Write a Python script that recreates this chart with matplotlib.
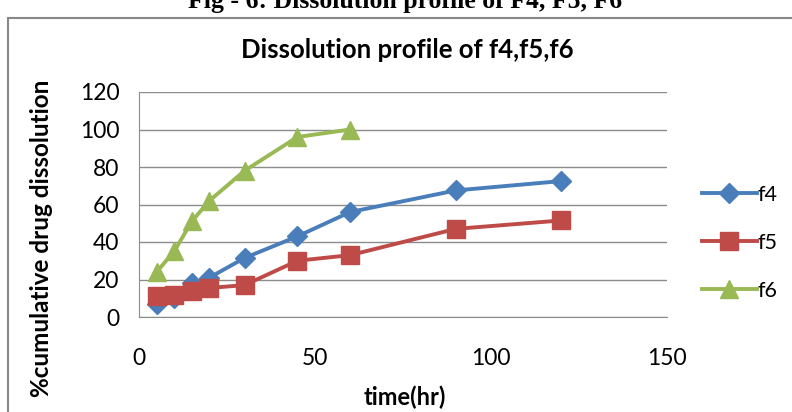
import matplotlib
matplotlib.use("Agg")
import matplotlib.pyplot as plt
from matplotlib.patches import Rectangle
from matplotlib.lines import Line2D

time_f4 = [5, 10, 15, 20, 30, 45, 60, 90, 120]
f4 = [7, 10, 18, 21, 31.5, 43, 56, 67.5, 72.5]
time_f5 = [5, 10, 15, 20, 30, 45, 60, 90, 120]
f5 = [11, 12, 14, 15.5, 17, 30, 33, 47, 51.5]
time_f6 = [5, 10, 15, 20, 30, 45, 60]
f6 = [24, 35, 51, 62, 78, 96, 100]

xticks = [0, 50, 100, 150]
yticks = [0, 20, 40, 60, 80, 100, 120]

FONT = ["Lato", "DejaVu Sans"]

fig = plt.figure(figsize=(7.92, 4.12), dpi=100)
fig.patch.set_facecolor("white")

# outer chart border
fig.patches.append(Rectangle((7.5/792, -0.05), 1.2, (1 - 18/412) + 0.05,
                             transform=fig.transFigure, fill=False,
                             edgecolor="#888888", linewidth=1.5))

# cropped caption at the top
fig.text(405/792, 1 - 8/412, "Fig - 6: Dissolution profile of F4, F5, F6",
         ha="center", va="baseline", fontsize=18.5, fontweight="bold",
         family=["Liberation Serif"])

ax = fig.add_axes([139/792, 1 - 317/412, (667 - 139)/792, (317 - 92)/412])
ax.set_xlim(0, 150)
ax.set_ylim(0, 120)
ax.set_xticks(xticks)
ax.set_yticks(yticks)
ax.grid(axis="y", color="#8c8c8c", linewidth=1)
ax.set_axisbelow(True)
for s in ["top", "right"]:
    ax.spines[s].set_visible(False)
for s in ["left", "bottom"]:
    ax.spines[s].set_color("#8c8c8c")
ax.tick_params(length=0, labelsize=16.5, pad=14)
ax.tick_params(axis="x", pad=22)
for lab in ax.get_xticklabels() + ax.get_yticklabels():
    lab.set_family(FONT)

c4, c5, c6 = "#4A7EBB", "#BE4B48", "#98B954"
ax.plot(time_f4, f4, color=c4, lw=2.8, marker="D", ms=10, clip_on=False, zorder=3)
ax.plot(time_f5, f5, color=c5, lw=2.8, marker="s", ms=13, clip_on=False, zorder=4)
ax.plot(time_f6, f6, color=c6, lw=2.8, marker="^", ms=13, clip_on=False, zorder=5)

handles = [Line2D([], [], color=c4, lw=2.8, marker="D", ms=10),
           Line2D([], [], color=c5, lw=2.8, marker="s", ms=13),
           Line2D([], [], color=c6, lw=2.8, marker="^", ms=13)]
leg = fig.legend(handles, ["f4", "f5", "f6"], loc="center left",
                 bbox_to_anchor=(691/792, 1 - 243/412), frameon=False,
                 prop={"family": FONT, "size": 15.5}, handlelength=2.55,
                 labelspacing=1.3, handletextpad=0.05, borderpad=0)

fig.text(407/792, 1 - 50/412, "Dissolution profile of f4,f5,f6", ha="center",
         va="center", fontsize=18.5, fontweight="bold", family=FONT)
fig.text(405/792, 1 - 397/412, "time(hr)", ha="center", va="center",
         fontsize=17, fontweight="bold", family=FONT)
fig.text(42/792, 1 - 238/412, "%cumulative drug dissolution", ha="center",
         va="center", rotation=90, fontsize=17.5, fontweight="bold", family=FONT)

fig.savefig("out.png", dpi=100)
